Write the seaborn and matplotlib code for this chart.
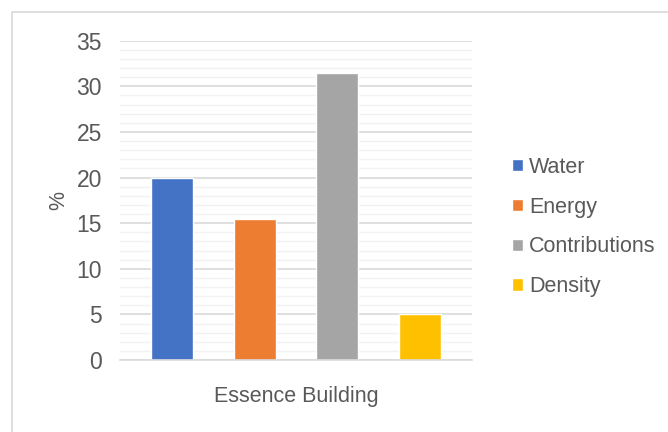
import matplotlib
matplotlib.use("Agg")
import matplotlib.pyplot as plt
import seaborn as sns
import pandas as pd
from matplotlib.patches import Rectangle
from matplotlib.ticker import MultipleLocator

series = ["Water", "Energy", "Contributions", "Density"]
values = [20, 15.5, 31.5, 5]
colors = ["#4472C4", "#ED7D31", "#A5A5A5", "#FFC000"]
category = "Essence Building"
y_label = "%"

df = pd.DataFrame({"series": series, "value": values})

sns.set_style("white")
plt.rcParams["font.family"] = ["Liberation Sans", "DejaVu Sans"]

fig = plt.figure(figsize=(6.68, 4.32), dpi=100)
ax = fig.add_axes([120/668, 72/432, 352/668, (360-40.7)/432])

sns.barplot(data=df, x="series", y="value", hue="series", palette=colors,
            width=0.506, ax=ax, legend=True, saturation=1)

ax.set_ylim(0, 35)
ax.set_xlim(-0.627, 3.627)
ax.yaxis.set_major_locator(MultipleLocator(5))
ax.yaxis.set_minor_locator(MultipleLocator(1))
ax.grid(which="major", axis="y", color="#d9d9d9", linewidth=1.2)
ax.grid(which="minor", axis="y", color="#f2f2f2", linewidth=1.0)
ax.set_axisbelow(True)
for s in ["top", "right", "left"]:
    ax.spines[s].set_visible(False)
ax.spines["bottom"].set_color("#d9d9d9")
ax.spines["bottom"].set_linewidth(1.2)
ax.tick_params(axis="y", which="both", length=0, pad=13, labelsize=16.5, labelcolor="#595959")
ax.set_xticks([])
ax.set_xlabel(category, fontsize=15.5, color="#595959", labelpad=18.5)
ax.set_ylabel(y_label, fontsize=15.5, color="#595959", labelpad=5)

handles, labels = ax.get_legend_handles_labels()
if ax.get_legend() is not None:
    ax.get_legend().remove()
fig.legend(handles, labels, loc="center left", bbox_to_anchor=(512/668, (432-227)/432),
           frameon=False, fontsize=15.5, labelcolor="#595959",
           handlelength=0.5, handleheight=0.5, handletextpad=0.3,
           labelspacing=0.87, borderaxespad=0, borderpad=0)

fig.patches.append(Rectangle((12/668, -0.1), 1.2, (432-12)/432 + 0.1,
                             transform=fig.transFigure, fill=False,
                             edgecolor="#d9d9d9", linewidth=1.2))

fig.savefig("out.png", dpi=100)
